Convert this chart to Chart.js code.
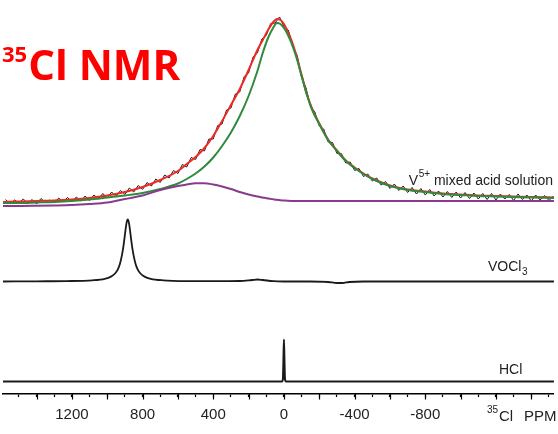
<!DOCTYPE html>
<html>
<head>
<meta charset="utf-8">
<script src="https://cdn.jsdelivr.net/npm/chart.js@4/dist/chart.umd.min.js"></script>
<style>
html,body{margin:0;padding:0;background:#fff;}
#wrap{width:558px;height:434px;position:relative;}
</style>
</head>
<body>
<div id="wrap"><canvas id="c" width="558" height="434"></canvas></div>
<script>
// ---- axis / tick labels (ppm) ----
const tickLabels = [1200, 800, 400, 0, -400, -800];
const ppmMin = -1528, ppmMax = 1590;

// ---- top trace: V5+ mixed acid solution ----
const fitPpm = [1590,1500,1400,1300,1200,1100,1000,900,800,700,600,550,500,450,400,350,300,250,200,150,120,90,60,40,20,0,-20,-40,-70,-100,-130,-160,-200,-250,-300,-350,-400,-450,-500,-600,-700,-800,-900,-1000,-1100,-1200,-1300,-1400,-1528];
const totalFit = [4,4.5,5,5.5,6.5,8,10.5,14,19,26,35,42,49,58,70,85,101,117,136,156,166,176,184,187,186,182,175,167,151,131,112,97,82.5,66.5,55.5,45.5,38.5,32.5,27.5,20.5,16.5,14.5,12.5,11.5,10.5,10,9.5,9,8.5];
const mainPeak = [3,3,3.5,4,5,6.5,8.5,10.5,13,17,22.5,27,32.5,39.5,48.5,60,73.5,90,110,135,153,168,178.5,183,182,178,172,164,149,130,111,96,82,66,55,45,38,32,27,20,16,14,12,11,10,9.5,9,8.5,8];
const minorPeak = [0,0,0.2,0.5,1,2,3.5,7,10.5,16,20,21.5,22.8,22.8,21.5,19.5,17,14,11.5,9.5,8.5,7.5,6.7,6.2,5.8,5.5,5.2,5,5,5,5,5,5,5,5,5,5,5,5,5,5,5,5,5,5,5,5,5,5];

const expPpm = [1575,1550,1525,1500,1475,1450,1425,1400,1375,1350,1325,1300,1275,1250,1225,1200,1175,1150,1125,1100,1075,1050,1025,1000,975,950,925,900,875,850,825,800,775,750,725,700,675,650,625,600,575,550,525,500,475,450,425,400,375,350,325,300,275,250,225,200,175,150,125,100,75,50,25,0,-25,-50,-75,-100,-125,-150,-175,-200,-225,-250,-275,-300,-325,-350,-375,-400,-425,-450,-475,-500,-525,-550,-575,-600,-625,-650,-675,-700,-725,-750,-775,-800,-825,-850,-875,-900,-925,-950,-975,-1000,-1025,-1050,-1075,-1100,-1125,-1150,-1175,-1200,-1225,-1250,-1275,-1300,-1325,-1350,-1375,-1400,-1425,-1450,-1475,-1500,-1525];
const expSignal = [6.5,2.0,6.0,3.0,7.0,2.5,6.5,2.0,7.5,3.5,6.0,3.0,8.0,4.0,8.5,4.0,9.0,5.0,10.0,5.5,11.0,7.0,12.5,8.0,14.0,9.5,15.5,11.5,18.0,14.0,20.5,16.5,23.5,20.0,27.0,23.5,31.0,28.0,35.5,32.5,41.5,39.0,48.5,46.5,56.5,55.0,67.0,67.0,80.5,82.0,96.0,98.0,112.0,114.0,129.5,133.0,149.0,153.0,167.0,170.5,182.5,183.0,189.0,179.5,176.0,159.0,150.5,128.5,118.0,99.5,94.0,80.0,77.0,64.0,63.5,52.5,52.5,43.0,44.0,35.5,37.5,29.5,32.0,25.0,28.0,21.0,24.5,17.5,22.0,15.5,20.0,13.5,18.5,12.0,17.5,11.0,16.5,10.0,15.0,9.0,14.5,8.5,14.0,8.0,13.5,7.5,13.0,7.0,12.5,6.5,12.5,6.0,12.0,7.0,11.5,5.5,12.0,6.5,11.0,5.0,11.0,6.0,10.5,5.5,10.0];

// ---- middle trace: VOCl3 ----
const voclPpm = [1590,1400,1234,1084,1014,979,956,940,928,918,910,903,897,892,888,884,880,876,871,865,858,850,840,828,812,789,754,684,534,400,250,180,150,120,60,0,-150,-250,-300,-330,-370,-450,-800,-1200,-1528];
const voclSignal = [0,0.2,0.4,1.2,2.7,4.9,8,12.1,17.8,25.4,33.3,42.4,51,57.3,60.8,62,60.8,57.3,51,42.4,33.3,25.4,17.8,12.1,8,4.9,2.7,1.2,0.4,0.3,0.5,1.5,2,1.5,0.3,0,0,-0.5,-1.5,-1.5,-0.5,0,0,0,0];

// ---- bottom trace: HCl ----
const hclPpm = [1590,12,6,3,0,-3,-6,-12,-1528];
const hclSignal = [0,0,2,20,42,20,2,0,0];

// trace baselines (stacking offsets)
const offsetTop = 188, offsetMid = 112.5, offsetBottom = 12.5;

function pts(xs, ys, off){ return xs.map((x,i)=>({x:x, y:ys[i]+off})); }

const overlay = {
  id: 'overlay',
  afterDraw(chart){
    const ctx = chart.ctx, xs = chart.scales.x, y0 = chart.chartArea.bottom;
    ctx.save();
    // longer ticks every 200 ppm
    ctx.strokeStyle = '#000'; ctx.lineWidth = 1.2;
    for (let v = -1400; v <= 1400; v += 200){
      const px = Math.round(xs.getPixelForValue(v)) + 0.5;
      ctx.beginPath(); ctx.moveTo(px, y0); ctx.lineTo(px, y0 + 5.5); ctx.stroke();
    }
    // axis unit label
    ctx.fillStyle = '#222'; ctx.textBaseline = 'alphabetic';
    ctx.font = '10px "Liberation Sans", Arial, sans-serif';
    ctx.fillText('35', 487, 413);
    ctx.font = '15px "Liberation Sans", Arial, sans-serif';
    ctx.fillText('Cl', 499, 421);
    ctx.fillText('PPM', 524, 421);
    // trace labels
    ctx.font = '14px "Liberation Sans", Arial, sans-serif';
    ctx.textAlign = 'right';
    ctx.fillText('mixed acid solution', 553, 185);
    const w1 = ctx.measureText(' mixed acid solution').width;
    ctx.font = '10px "Liberation Sans", Arial, sans-serif';
    const w2 = ctx.measureText('5+').width;
    ctx.textAlign = 'left';
    ctx.fillText('5+', 553 - w1 - w2, 177);
    ctx.font = '14px "Liberation Sans", Arial, sans-serif';
    const w3 = ctx.measureText('V').width;
    ctx.fillText('V', 553 - w1 - w2 - w3 - 0.5, 185);
    ctx.fillText('VOCl', 488, 271);
    const w4 = ctx.measureText('VOCl').width;
    ctx.font = '10px "Liberation Sans", Arial, sans-serif';
    ctx.fillText('3', 488 + w4 + 0.5, 275);
    ctx.font = '14px "Liberation Sans", Arial, sans-serif';
    ctx.fillText('HCl', 499, 374);
    // title
    ctx.fillStyle = '#ff0000';
    ctx.font = 'bold 22px "Open Sans", sans-serif';
    ctx.fillText('35', 2, 62);
    const w5 = ctx.measureText('35').width;
    ctx.font = 'bold 42px "Open Sans", sans-serif';
    ctx.fillText('Cl NMR', 2 + w5 + 1, 80);
    ctx.restore();
  }
};

const line = (data, color, width, order) => ({data, borderColor: color, borderWidth: width, showLine: true, pointRadius: 0, fill: false, order, tension: 0.3, cubicInterpolationMode: 'monotone'});

new Chart(document.getElementById('c'), {
  type: 'scatter',
  data: { datasets: [
    Object.assign(line(pts(expPpm, expSignal, offsetTop), '#1a1a1a', 1, 4), {tension: 0, cubicInterpolationMode: 'default'}),
    line(pts(fitPpm, totalFit, offsetTop), '#ee2a24', 2, 3),
    line(pts(fitPpm, mainPeak, offsetTop), '#2e8a3c', 2, 2),
    line(pts(fitPpm, minorPeak, offsetTop), '#8a3a8e', 2, 1),
    line(pts(voclPpm, voclSignal, offsetMid), '#1a1a1a', 1.8, 5),
    line(pts(hclPpm, hclSignal, offsetBottom), '#1a1a1a', 2, 6)
  ]},
  options: {
    responsive: false, animation: false,
    layout: { padding: { left: 3, right: 3, top: 0, bottom: 1 } },
    plugins: { legend: { display: false }, tooltip: { enabled: false } },
    scales: {
      x: { type: 'linear', min: ppmMin, max: ppmMax, reverse: true,
        ticks: { stepSize: 100, includeBounds: false, autoSkip: false, maxRotation: 0, padding: 9,
          color: '#222', font: { size: 15, family: '"Liberation Sans", Arial, sans-serif' },
          callback: v => tickLabels.includes(v) ? String(v) : '' },
        grid: { drawOnChartArea: false, tickLength: 3, tickColor: '#000', tickWidth: 1.2 },
        border: { display: true, color: '#000', width: 1.5 } },
      y: { display: false, min: 0, max: 394 }
    }
  },
  plugins: [overlay]
});
</script>
</body>
</html>
